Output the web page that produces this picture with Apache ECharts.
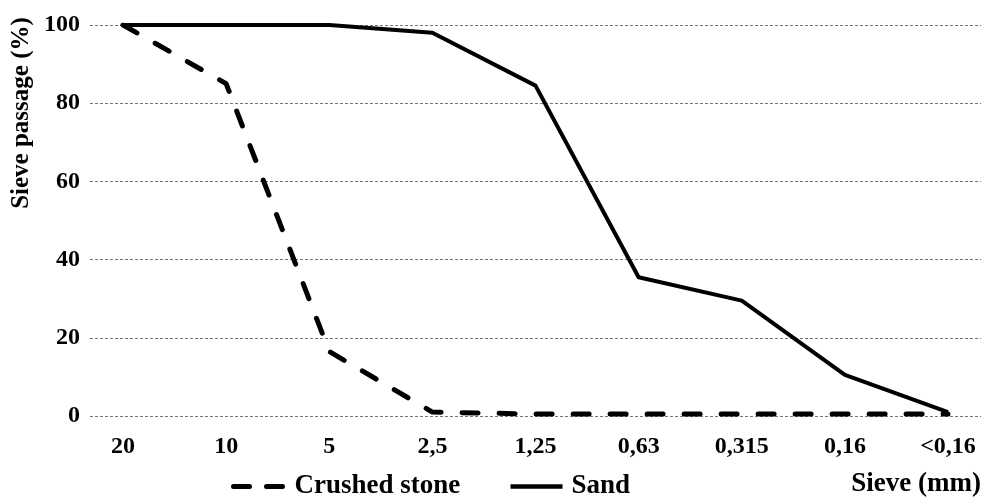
<!DOCTYPE html>
<html>
<head>
<meta charset="utf-8">
<script src="https://cdn.jsdelivr.net/npm/echarts@6/dist/echarts.min.js"></script>
<style>
  html, body { margin: 0; padding: 0; background: #fff; }
  #chart { width: 983px; height: 497px; }
</style>
</head>
<body>
<div id="chart"></div>
<script>
// sieve sizes (mm), largest to smallest
const sieves = ['20', '10', '5', '2,5', '1,25', '0,63', '0,315', '0,16', '<0,16']
const crushedStone = [100, 85, 16.5, 1, 0.5, 0.5, 0.5, 0.5, 0.5]
const sand = [100, 100, 100, 98, 84.5, 35.5, 29.5, 10.5, 1]
const yTicks = [0, 20, 40, 60, 80, 100]

const FONT = '"Liberation Serif", "Times New Roman", serif'
const DASH = [16, 21]

const chart = echarts.init(document.getElementById('chart'), null, { renderer: 'canvas' })

const toPoints = arr => arr.map((v, i) => [i, v])

chart.setOption({
  animation: false,
  title: {
    text: 'Sieve (mm)',
    right: 2,
    top: 471,
    padding: 0,
    textStyle: { fontFamily: FONT, fontSize: 27, fontWeight: 'bold', color: '#000' },
  },
  legend: {
    top: 473,
    left: 231,
    padding: 0,
    itemWidth: 52,
    itemHeight: 12,
    itemGap: 48,
    itemStyle: { opacity: 0 },
    data: [
      { name: 'Crushed stone', lineStyle: { width: 5, type: [16, 17], cap: 'round' } },
      { name: 'Sand', lineStyle: { width: 4.5 } },
    ],
    textStyle: { fontFamily: FONT, fontSize: 27, fontWeight: 'bold', color: '#000', padding: [0, 0, 0, 4] },
  },
  graphic: [{
    type: 'text',
    x: 22,
    y: 113,
    rotation: Math.PI / 2,
    style: {
      text: 'Sieve passage (%)',
      font: 'bold 25px ' + FONT,
      fill: '#000',
      align: 'center',
      verticalAlign: 'middle',
    },
  }],
  grid: { left: 90, right: 2, top: 25, bottom: 81 },
  xAxis: {
    type: 'value',
    min: -0.32,
    max: sieves.length - 1 + 0.32,
    axisLine: { show: false },
    axisTick: { show: false },
    splitLine: { show: false },
    axisLabel: {
      customValues: sieves.map((_, i) => i),
      formatter: v => sieves[Math.round(v)],
      margin: 19,
      fontFamily: FONT,
      fontSize: 24,
      fontWeight: 'bold',
      color: '#000',
    },
  },
  yAxis: {
    type: 'value',
    min: 0,
    max: 100,
    interval: 20,
    axisLine: { show: false },
    axisTick: { show: false },
    axisLabel: {
      customValues: yTicks,
      margin: 10,
      fontFamily: FONT,
      fontSize: 24,
      fontWeight: 'bold',
      color: '#000',
    },
    splitLine: { lineStyle: { color: '#777', width: 1, type: [3, 2] } },
  },
  series: [
    {
      name: 'Crushed stone',
      type: 'line',
      data: toPoints(crushedStone),
      symbol: 'none',
      itemStyle: { color: '#000' },
      lineStyle: { color: '#000', width: 5, type: DASH, cap: 'round' },
    },
    {
      name: 'Sand',
      type: 'line',
      data: toPoints(sand),
      symbol: 'none',
      itemStyle: { color: '#000' },
      lineStyle: { color: '#000', width: 4, join: 'round' },
    },
  ],
})
</script>
</body>
</html>
